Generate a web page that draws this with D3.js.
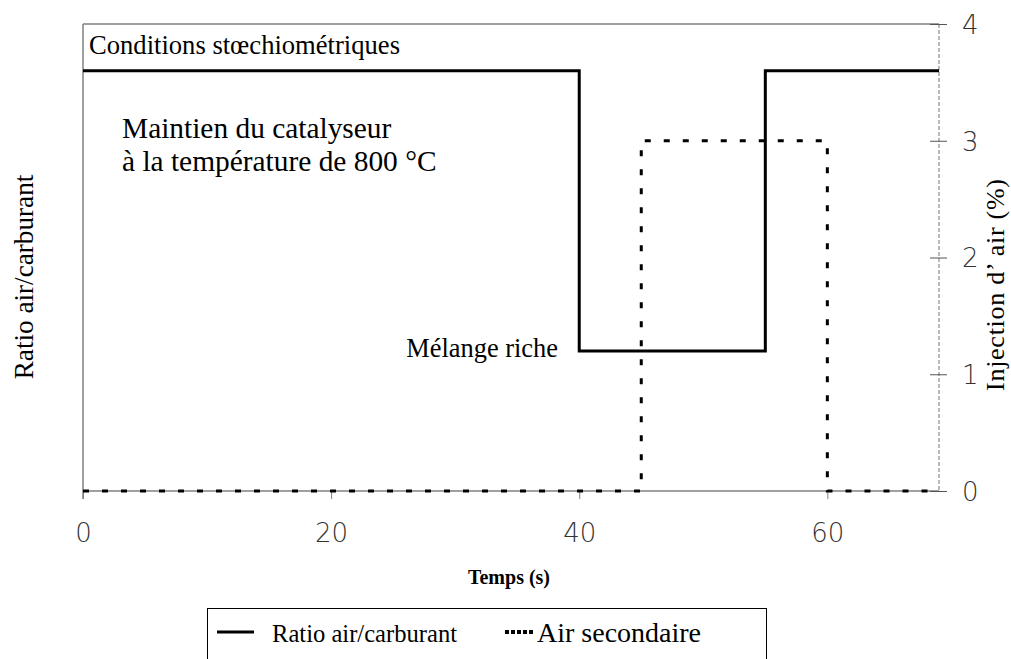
<!DOCTYPE html>
<html>
<head>
<meta charset="utf-8">
<script src="https://cdn.jsdelivr.net/npm/d3@7"></script>
<style>
  body { margin: 0; background: #fff; }
  svg { display: block; }
  .serif { font-family: "Liberation Serif", "Times New Roman", serif; fill: #000; }
  .tick text { font-family: "DejaVu Sans", sans-serif; font-size: 26px; font-weight: 200; fill: #333; }
</style>
</head>
<body>
<div id="chart"></div>
<script>
// data
const ratioTime = [0, 40, 40, 55, 55, 69]
const ratioValue = [3.6, 3.6, 1.2, 1.2, 3.6, 3.6]
const airTime = [0, 45, 45, 60, 60, 69]
const airValue = [0, 0, 3, 3, 0, 0]
const xTicks = [0, 20, 40, 60]
const yTicks = [0, 1, 2, 3, 4]

const W = 1011, H = 659
const mLeft = 83, mRight = 939, mTop = 24, mBottom = 491

const svg = d3.select("#chart").append("svg")
    .attr("width", W)
    .attr("height", H)

const x = d3.scaleLinear().domain([0, 69]).range([mLeft, mRight])
const y = d3.scaleLinear().domain([0, 4]).range([mBottom, mTop])

// frame
svg.append("line").attr("x1", mLeft).attr("x2", mLeft).attr("y1", mTop).attr("y2", mBottom + 8)
    .attr("stroke", "#808080").attr("stroke-width", 1.5)
svg.append("line").attr("x1", mLeft).attr("x2", mRight).attr("y1", mTop).attr("y2", mTop)
    .attr("stroke", "#808080").attr("stroke-width", 1.5)
svg.append("line").attr("x1", mLeft).attr("x2", mRight).attr("y1", mBottom).attr("y2", mBottom)
    .attr("stroke", "#808080").attr("stroke-width", 1.5)
svg.append("line").attr("x1", mRight).attr("x2", mRight).attr("y1", mTop).attr("y2", mBottom)
    .attr("stroke", "#777").attr("stroke-width", 1).attr("stroke-dasharray", "4,2")

// axes
const xAxis = svg.append("g")
    .attr("transform", `translate(0,${mBottom})`)
    .call(d3.axisBottom(x).tickValues(xTicks).tickSize(8).tickPadding(25).tickFormat(d3.format("d")))
xAxis.select(".domain").remove()
xAxis.selectAll(".tick line").attr("stroke", "#808080")

const yAxis = svg.append("g")
    .attr("transform", `translate(${mRight},0)`)
    .call(d3.axisRight(y).tickValues(yTicks).tickSize(8).tickPadding(15).tickFormat(d3.format("d")))
yAxis.select(".domain").remove()
yAxis.selectAll(".tick line").attr("x1", -9).attr("stroke", "#555")
yAxis.selectAll(".tick text").attr("dy", "0.36em")

// series
const line = d3.line().x(d => x(d[0])).y(d => y(d[1]))

svg.append("path")
    .datum(d3.zip(airTime, airValue))
    .attr("d", line)
    .attr("fill", "none")
    .attr("stroke", "#000")
    .attr("stroke-width", 3)
    .attr("stroke-dasharray", "6,13")

svg.append("path")
    .datum(d3.zip(ratioTime, ratioValue))
    .attr("d", line)
    .attr("fill", "none")
    .attr("stroke", "#000")
    .attr("stroke-width", 3)

function label(sel, px, py, size, txt, anchor) {
    return sel.append("text").attr("class", "serif")
        .attr("x", px).attr("y", py)
        .attr("font-size", size)
        .attr("text-anchor", anchor || "start")
        .text(txt)
}

// annotations
label(svg, 89, 54, 26.6, "Conditions stœchiométriques")
label(svg, 122, 138, 29.4, "Maintien du catalyseur")
label(svg, 122, 171, 29.4, "à la température de 800 °C")
label(svg, 558, 357, 26.4, "Mélange riche", "end")

// axis titles
label(svg, 0, 0, 27.2, "Ratio air/carburant", "middle")
    .attr("transform", "translate(33,277) rotate(-90)")
label(svg, 0, 0, 26, "Injection d’ air (%)", "middle")
    .attr("transform", "translate(1004,285) rotate(-90)")
    .attr("textLength", 212).attr("lengthAdjust", "spacing")
svg.append("text").attr("class", "serif")
    .attr("x", 509).attr("y", 584)
    .attr("text-anchor", "middle").attr("font-size", 20).attr("font-weight", "bold")
    .text("Temps (s)")

// legend
const lg = svg.append("g")
lg.append("rect").attr("x", 207.5).attr("y", 608.5).attr("width", 559).attr("height", 60)
    .attr("fill", "none").attr("stroke", "#000").attr("stroke-width", 1)
lg.append("line").attr("x1", 217).attr("x2", 254).attr("y1", 632).attr("y2", 632)
    .attr("stroke", "#000").attr("stroke-width", 3)
label(lg, 272, 642, 24.6, "Ratio air/carburant")
lg.append("line").attr("x1", 505).attr("x2", 534).attr("y1", 632).attr("y2", 632)
    .attr("stroke", "#000").attr("stroke-width", 4).attr("stroke-dasharray", "4,2")
label(lg, 537, 642, 28, "Air secondaire")
</script>
</body>
</html>
